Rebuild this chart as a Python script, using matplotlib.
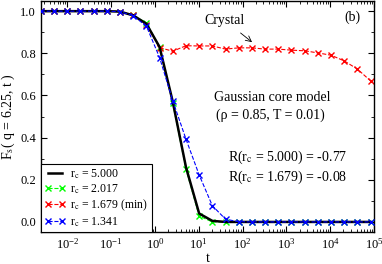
import numpy as np
import matplotlib
matplotlib.use("Agg")
import matplotlib.pyplot as plt
from matplotlib.ticker import MultipleLocator, LogLocator, NullFormatter, FixedLocator

plt.rcParams['font.family'] = ['Liberation Serif', 'DejaVu Serif']
plt.rcParams['mathtext.fontset'] = 'stix'

# time grid: t = 0.0025 * 2^k, k = 0..25
k = np.arange(26)
t = 0.0025 * 2.0 ** k

f_rc5000 = [1.0, 1.0, 1.0, 1.0, 1.0, 1.0, 0.998, 0.98, 0.94, 0.83, 0.57, 0.26, 0.04, 0.005,
            0.0, 0.0, 0.0, 0.0, 0.0, 0.0, 0.0, 0.0, 0.0, 0.0, 0.0, 0.0]
f_rc2017 = [1.0, 1.0, 1.0, 1.0, 1.0, 1.0, 0.998, 0.98, 0.945, 0.83, 0.562, 0.25, 0.028, 0.0,
            0.0, 0.0, 0.0, 0.0, 0.0, 0.0, 0.0, 0.0, 0.0, 0.0, 0.0, 0.0]
f_rc1679 = [1.0, 1.0, 1.0, 1.0, 1.0, 1.0, 0.998, 0.98, 0.934, 0.827, 0.81, 0.836, 0.835, 0.835,
            0.820, 0.826, 0.826, 0.820, 0.820, 0.815, 0.812, 0.802, 0.791, 0.764, 0.725, 0.669]
f_rc1341 = [1.0, 1.0, 1.0, 1.0, 1.0, 1.0, 0.998, 0.978, 0.929, 0.78, 0.575, 0.393, 0.223, 0.077,
            0.013, 0.001, 0.0, 0.0, 0.0, 0.0, 0.0, 0.0, 0.0, 0.0, 0.0, 0.0]

labels = [r"r$_\mathrm{c}$ = 5.000", r"r$_\mathrm{c}$ = 2.017",
          r"r$_\mathrm{c}$ = 1.679 (min)", r"r$_\mathrm{c}$ = 1.341"]
xticks = [1e-2, 1e-1, 1e0, 1e1, 1e2, 1e3, 1e4, 1e5]

fig = plt.figure(figsize=(3.82, 2.64), dpi=100)
ax = fig.add_axes([0.107, 0.121, 0.872, 0.875])

ax.plot(t, f_rc5000, color='black', lw=1.8, label=labels[0], zorder=3)
ax.plot(t, f_rc2017, color='#00ff00', lw=0.8, ls='--', marker='x', ms=4, mew=1.0,
        label=labels[1], zorder=2)
ax.plot(t, f_rc1679, color='#ff0000', lw=0.8, ls='--', marker='x', ms=4, mew=1.0,
        label=labels[2], zorder=2)
ax.plot(t, f_rc1341, color='#0000ff', lw=0.8, ls='--', marker='x', ms=4, mew=1.0,
        label=labels[3], zorder=4)

ax.set_xscale('log')
ax.set_xlim(0.0025, 1e5)
ax.set_ylim(-0.048, 1.048)
ax.yaxis.set_major_locator(MultipleLocator(0.2))
ax.yaxis.set_minor_locator(MultipleLocator(0.1))
ax.yaxis.set_major_formatter(matplotlib.ticker.FormatStrFormatter('%.1f'))
ax.xaxis.set_major_locator(FixedLocator(xticks))
ax.xaxis.set_minor_locator(LogLocator(base=10, subs=np.arange(2, 10), numticks=20))
ax.xaxis.set_minor_formatter(NullFormatter())

ax.tick_params(which='both', direction='in', top=True, right=True, labelsize=9)
ax.tick_params(which='major', length=4)
ax.tick_params(which='minor', length=2)
for s in ax.spines.values():
    s.set_linewidth(1.0)

ax.set_xlabel('t', fontsize=10, labelpad=0)
ax.set_ylabel(r"F$_\mathrm{s}$( q = 6.25, t )", fontsize=10, labelpad=2)

ax.text(0.961, 0.93, '(b)', transform=ax.transAxes, ha='right', va='center', fontsize=10)
ax.annotate('Crystal', xy=(165, 0.853), xytext=(39, 0.957),
            fontsize=10, ha='center', va='center',
            arrowprops=dict(arrowstyle='->', color='black', lw=0.6, shrinkA=4, shrinkB=0))
ax.text(0.694, 0.584, 'Gaussian core model', transform=ax.transAxes, ha='center', va='center', fontsize=10)
ax.text(0.688, 0.506, '(ρ = 0.85, T = 0.01)', transform=ax.transAxes, ha='center', va='center', fontsize=10)
ax.text(0.562, 0.325, r"R(r$_\mathrm{c}$ = 5.000) = -0.77", transform=ax.transAxes,
        ha='left', va='center', fontsize=10)
ax.text(0.562, 0.238, r"R(r$_\mathrm{c}$ = 1.679) = -0.08", transform=ax.transAxes,
        ha='left', va='center', fontsize=10)

leg = ax.legend(loc='lower left', bbox_to_anchor=(0.0, 0.0), fontsize=8.5, frameon=True,
                fancybox=False, edgecolor='black', framealpha=1, borderpad=0.3,
                labelspacing=0.15, handlelength=1.8, handletextpad=0.4, borderaxespad=0.0,
                numpoints=2)
leg.get_frame().set_linewidth(0.8)

fig.savefig('out.png', dpi=100)
